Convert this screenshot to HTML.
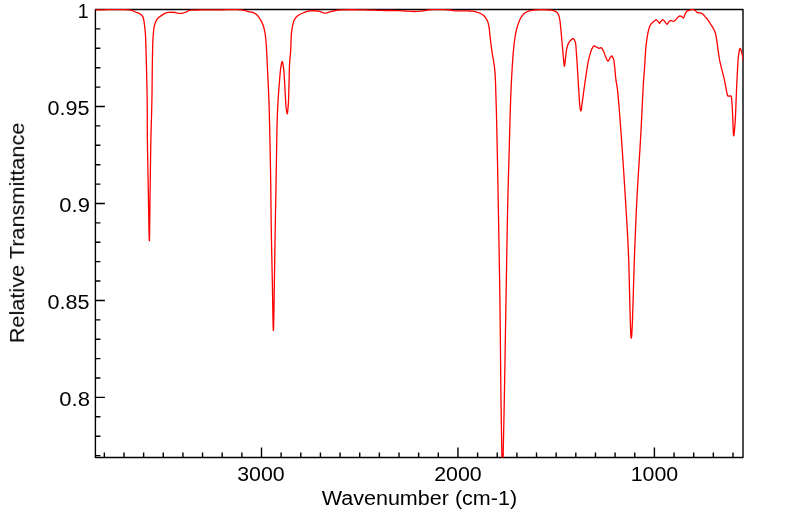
<!DOCTYPE html>
<html><head><meta charset="utf-8"><style>
html,body{margin:0;padding:0;background:#fff;}
svg{display:block;}
text{font-family:"Liberation Sans",sans-serif;fill:#000;}
</style></head><body>
<svg width="799" height="516" viewBox="0 0 799 516">
<defs><clipPath id="c"><rect x="95.4" y="8.5" width="647.60" height="449.00"/></clipPath></defs>
<rect x="0" y="0" width="799" height="516" fill="#fff"/>
<rect x="95.4" y="9.5" width="647.60" height="448.00" fill="none" stroke="#000" stroke-width="1.4" stroke-linejoin="round"/>
<path d="M732.98 457.5V452.5M713.34 457.5V452.5M693.69 457.5V452.5M674.05 457.5V452.5M654.40 457.5V447.5M634.76 457.5V452.5M615.11 457.5V452.5M595.47 457.5V452.5M575.82 457.5V452.5M556.17 457.5V452.5M536.53 457.5V452.5M516.88 457.5V452.5M497.24 457.5V452.5M477.60 457.5V452.5M457.95 457.5V447.5M438.31 457.5V452.5M418.66 457.5V452.5M399.01 457.5V452.5M379.37 457.5V452.5M359.73 457.5V452.5M340.08 457.5V452.5M320.44 457.5V452.5M300.79 457.5V452.5M281.14 457.5V452.5M261.50 457.5V447.5M241.85 457.5V452.5M222.21 457.5V452.5M202.56 457.5V452.5M182.92 457.5V452.5M163.27 457.5V452.5M143.63 457.5V452.5M123.98 457.5V452.5M104.34 457.5V452.5M95.4 455.59H100.4M95.4 436.20H100.4M95.4 416.80H100.4M95.4 397.41H104.9M95.4 378.02H100.4M95.4 358.62H100.4M95.4 339.23H100.4M95.4 319.83H100.4M95.4 300.44H104.9M95.4 281.05H100.4M95.4 261.65H100.4M95.4 242.26H100.4M95.4 222.86H100.4M95.4 203.47H104.9M95.4 184.08H100.4M95.4 164.68H100.4M95.4 145.29H100.4M95.4 125.89H100.4M95.4 106.50H104.9M95.4 87.11H100.4M95.4 67.71H100.4M95.4 48.32H100.4M95.4 28.92H100.4" stroke="#000" stroke-width="1.4" fill="none"/>
<path clip-path="url(#c)" d="M90.00 9.90 91.62 9.90 93.25 9.90 95.40 9.90 96.36 9.90 97.48 9.89 98.75 9.87 100.16 9.84 101.69 9.81 103.32 9.78 105.03 9.74 106.82 9.71 108.66 9.67 110.53 9.64 112.43 9.62 114.33 9.60 116.23 9.58 118.09 9.58 119.91 9.58 121.68 9.60 123.36 9.63 124.96 9.68 126.45 9.75 127.81 9.83 129.04 9.93 130.10 10.05 131.00 10.20 132.84 10.73 134.17 11.37 135.50 12.00 137.06 12.55 138.61 13.10 140.00 13.80 141.53 15.03 142.70 16.50 143.34 18.11 143.75 20.00 144.00 21.35 144.23 22.87 144.43 24.50 144.62 26.15 144.80 27.75 144.97 29.30 145.12 30.85 145.27 32.40 145.39 33.95 145.50 35.50 145.58 37.00 145.65 38.46 145.70 39.94 145.74 41.51 145.80 43.25 145.84 44.51 145.89 45.81 145.93 47.16 145.97 48.57 146.02 50.03 146.07 51.54 146.11 53.11 146.16 54.74 146.21 56.43 146.25 58.18 146.30 60.00 146.33 61.23 146.36 62.52 146.40 63.84 146.43 65.21 146.47 66.62 146.50 68.06 146.54 69.54 146.57 71.04 146.61 72.58 146.65 74.14 146.68 75.72 146.72 77.31 146.76 78.93 146.79 80.56 146.83 82.19 146.86 83.83 146.90 85.48 146.93 87.13 146.96 88.78 146.99 90.42 147.02 92.05 147.05 93.67 147.08 95.28 147.10 96.88 147.13 98.45 147.15 100.00 147.17 101.54 147.19 103.06 147.20 104.59 147.22 106.11 147.23 107.63 147.24 109.14 147.25 110.65 147.25 112.16 147.26 113.67 147.27 115.18 147.27 116.69 147.28 118.21 147.28 119.72 147.28 121.24 147.29 122.76 147.29 124.29 147.30 125.82 147.30 127.36 147.31 128.91 147.32 130.46 147.33 132.03 147.34 133.60 147.35 135.18 147.37 136.78 147.38 138.38 147.40 140.00 147.42 141.44 147.44 142.88 147.46 144.33 147.48 145.80 147.50 147.27 147.52 148.75 147.55 150.23 147.57 151.72 147.59 153.22 147.62 154.73 147.65 156.24 147.67 157.76 147.70 159.28 147.73 160.80 147.76 162.33 147.79 163.86 147.81 165.39 147.84 166.93 147.87 168.47 147.90 170.01 147.93 171.55 147.97 173.10 148.00 174.64 148.03 176.18 148.06 177.73 148.09 179.27 148.12 180.81 148.15 182.35 148.18 183.88 148.21 185.42 148.24 186.95 148.27 188.48 148.30 190.00 148.33 191.58 148.36 193.24 148.39 194.98 148.42 196.79 148.45 198.66 148.49 200.59 148.52 202.55 148.55 204.55 148.58 206.57 148.62 208.62 148.65 210.67 148.68 212.72 148.72 214.76 148.75 216.79 148.78 218.79 148.82 220.76 148.85 222.68 148.88 224.56 148.92 226.37 148.95 228.12 148.98 229.79 149.02 231.38 149.05 232.87 149.08 234.26 149.11 235.54 149.14 236.71 149.18 237.74 149.21 238.64 149.24 239.40 149.27 240.00 149.29 240.44 149.32 240.71 149.35 240.80 149.38 240.71 149.40 240.44 149.43 240.00 149.45 239.39 149.48 238.64 149.50 237.74 149.53 236.71 149.55 235.54 149.57 234.26 149.60 232.87 149.62 231.38 149.64 229.79 149.66 228.12 149.69 226.37 149.71 224.56 149.73 222.68 149.75 220.76 149.77 218.79 149.79 216.79 149.81 214.76 149.84 212.72 149.86 210.67 149.88 208.62 149.90 206.57 149.92 204.55 149.94 202.55 149.96 200.59 149.99 198.66 150.01 196.79 150.03 194.98 150.05 193.24 150.08 191.58 150.10 190.00 150.12 188.48 150.15 186.95 150.17 185.42 150.19 183.88 150.21 182.35 150.24 180.81 150.26 179.27 150.28 177.73 150.31 176.18 150.33 174.64 150.35 173.10 150.37 171.55 150.40 170.01 150.42 168.47 150.44 166.93 150.46 165.39 150.49 163.86 150.51 162.33 150.53 160.80 150.56 159.27 150.58 157.75 150.61 156.24 150.63 154.73 150.66 153.22 150.68 151.72 150.71 150.23 150.73 148.75 150.76 147.27 150.79 145.80 150.81 144.33 150.84 142.88 150.87 141.44 150.90 140.00 150.93 138.38 150.97 136.78 151.01 135.18 151.04 133.60 151.08 132.03 151.12 130.46 151.16 128.91 151.20 127.36 151.25 125.82 151.29 124.29 151.33 122.76 151.37 121.24 151.41 119.72 151.46 118.21 151.50 116.69 151.54 115.18 151.58 113.67 151.62 112.16 151.66 110.65 151.70 109.14 151.74 107.63 151.77 106.11 151.81 104.59 151.84 103.06 151.87 101.54 151.90 100.00 151.93 98.45 151.95 96.88 151.98 95.28 152.00 93.67 152.03 92.05 152.05 90.42 152.07 88.78 152.09 87.13 152.10 85.48 152.12 83.84 152.14 82.19 152.16 80.56 152.17 78.93 152.19 77.31 152.20 75.72 152.22 74.14 152.24 72.58 152.25 71.04 152.27 69.54 152.29 68.06 152.30 66.62 152.32 65.21 152.34 63.84 152.36 62.52 152.38 61.23 152.40 60.00 152.43 58.18 152.47 56.43 152.50 54.74 152.53 53.11 152.57 51.54 152.60 50.03 152.64 48.57 152.67 47.16 152.71 45.81 152.76 44.51 152.80 43.25 152.87 41.51 152.93 39.94 153.01 38.46 153.09 37.00 153.20 35.50 153.32 33.91 153.46 32.27 153.61 30.66 153.79 29.13 154.00 27.75 154.42 25.71 155.00 23.80 155.61 22.13 156.36 20.42 157.30 18.90 158.40 17.77 159.67 16.82 161.00 15.90 162.44 14.86 163.95 13.87 165.50 13.10 166.98 12.67 168.49 12.43 170.00 12.30 171.47 12.27 172.95 12.36 174.50 12.50 175.96 12.72 177.50 13.03 179.04 13.30 180.50 13.40 182.06 13.26 183.54 12.94 185.00 12.50 186.51 11.82 187.99 11.01 189.50 10.40 190.86 10.17 192.25 10.13 194.00 10.10 195.02 10.07 196.17 10.04 197.43 10.01 198.80 9.99 200.25 9.97 201.78 9.96 203.37 9.94 205.01 9.93 206.67 9.93 208.36 9.92 210.05 9.91 211.73 9.91 213.38 9.90 215.00 9.90 216.44 9.89 217.96 9.87 219.53 9.85 221.15 9.82 222.80 9.79 224.47 9.76 226.16 9.72 227.84 9.70 229.51 9.67 231.16 9.66 232.76 9.65 234.32 9.65 235.82 9.67 237.25 9.70 238.59 9.74 239.84 9.81 240.98 9.89 242.00 10.00 243.83 10.32 245.31 10.72 246.64 11.13 248.00 11.50 249.73 11.80 251.41 12.06 253.00 12.50 254.43 13.17 255.78 14.01 257.00 15.00 258.10 16.19 259.07 17.53 260.00 19.00 260.81 20.37 261.60 21.84 262.34 23.38 263.00 25.00 263.50 26.48 263.94 28.02 264.33 29.62 264.68 31.28 265.00 33.00 265.24 34.47 265.44 35.95 265.61 37.46 265.77 39.03 265.91 40.70 266.05 42.48 266.20 44.40 266.29 45.61 266.38 46.89 266.47 48.23 266.55 49.63 266.64 51.08 266.72 52.57 266.80 54.10 266.88 55.67 266.96 57.26 267.03 58.87 267.11 60.50 267.18 62.14 267.26 63.78 267.33 65.42 267.41 67.06 267.48 68.68 267.55 70.28 267.63 71.85 267.70 73.40 267.77 74.94 267.85 76.48 267.92 78.03 268.00 79.59 268.07 81.15 268.15 82.71 268.22 84.28 268.30 85.84 268.37 87.40 268.44 88.96 268.51 90.51 268.58 92.05 268.64 93.58 268.71 95.11 268.77 96.62 268.83 98.11 268.89 99.59 268.95 101.06 269.00 102.50 269.05 104.07 269.10 105.58 269.15 107.04 269.19 108.48 269.24 109.88 269.27 111.28 269.31 112.68 269.35 114.08 269.38 115.50 269.41 116.95 269.45 118.44 269.48 119.98 269.52 121.58 269.56 123.25 269.60 125.00 269.63 126.23 269.66 127.50 269.69 128.80 269.72 130.12 269.75 131.48 269.78 132.86 269.81 134.27 269.84 135.70 269.87 137.15 269.90 138.62 269.94 140.12 269.97 141.63 270.00 143.16 270.03 144.70 270.06 146.26 270.10 147.83 270.13 149.41 270.16 151.00 270.19 152.60 270.22 154.20 270.25 155.81 270.29 157.43 270.32 159.04 270.35 160.66 270.38 162.27 270.41 163.89 270.44 165.50 270.46 167.10 270.49 168.70 270.52 170.29 270.55 171.87 270.57 173.44 270.60 175.00 270.62 176.49 270.65 177.99 270.67 179.50 270.69 181.01 270.71 182.53 270.73 184.05 270.75 185.57 270.77 187.10 270.79 188.63 270.81 190.16 270.83 191.70 270.85 193.24 270.86 194.78 270.88 196.32 270.90 197.86 270.92 199.41 270.93 200.95 270.95 202.50 270.97 204.05 270.98 205.59 271.00 207.14 271.02 208.68 271.04 210.22 271.05 211.76 271.07 213.30 271.09 214.84 271.11 216.37 271.13 217.90 271.15 219.43 271.17 220.95 271.19 222.47 271.21 223.99 271.23 225.50 271.25 227.01 271.28 228.51 271.30 230.00 271.33 231.55 271.35 233.09 271.38 234.63 271.41 236.17 271.43 237.70 271.46 239.23 271.49 240.76 271.52 242.28 271.55 243.80 271.58 245.32 271.61 246.83 271.64 248.35 271.67 249.86 271.70 251.37 271.73 252.87 271.76 254.38 271.79 255.89 271.82 257.39 271.85 258.89 271.88 260.40 271.92 261.90 271.95 263.40 271.98 264.91 272.01 266.41 272.04 267.91 272.08 269.42 272.11 270.93 272.14 272.43 272.17 273.94 272.20 275.45 272.24 276.97 272.27 278.48 272.30 280.00 272.33 281.57 272.36 283.23 272.40 284.96 272.43 286.76 272.46 288.62 272.50 290.53 272.53 292.49 272.56 294.47 272.60 296.49 272.63 298.52 272.66 300.56 272.70 302.59 272.73 304.63 272.77 306.64 272.80 308.63 272.83 310.58 272.87 312.50 272.90 314.36 272.94 316.17 272.97 317.90 273.00 319.56 273.04 321.14 273.07 322.62 273.10 324.01 273.14 325.28 273.17 326.43 273.20 327.46 273.24 328.35 273.27 329.10 273.30 329.70 273.34 330.14 273.37 330.41 273.40 330.50 273.43 330.41 273.46 330.14 273.50 329.70 273.53 329.10 273.56 328.35 273.59 327.46 273.62 326.43 273.65 325.28 273.69 324.01 273.72 322.62 273.75 321.14 273.78 319.56 273.81 317.90 273.84 316.16 273.87 314.36 273.90 312.50 273.93 310.58 273.96 308.63 273.99 306.64 274.02 304.63 274.06 302.59 274.08 300.56 274.11 298.52 274.14 296.49 274.17 294.47 274.20 292.49 274.23 290.53 274.26 288.62 274.29 286.76 274.32 284.96 274.34 283.23 274.37 281.57 274.40 280.00 274.43 278.48 274.45 276.97 274.48 275.45 274.51 273.94 274.53 272.43 274.56 270.93 274.58 269.42 274.60 267.91 274.63 266.41 274.65 264.91 274.68 263.40 274.70 261.90 274.72 260.40 274.75 258.89 274.77 257.39 274.79 255.89 274.81 254.38 274.84 252.87 274.86 251.37 274.88 249.86 274.91 248.35 274.93 246.83 274.95 245.32 274.98 243.80 275.00 242.28 275.02 240.76 275.05 239.23 275.07 237.70 275.10 236.17 275.12 234.63 275.15 233.09 275.17 231.55 275.20 230.00 275.23 228.51 275.25 227.01 275.28 225.51 275.30 224.00 275.33 222.50 275.36 220.98 275.38 219.47 275.41 217.95 275.44 216.43 275.47 214.91 275.49 213.39 275.52 211.86 275.55 210.33 275.58 208.80 275.60 207.27 275.63 205.74 275.66 204.20 275.69 202.66 275.72 201.13 275.75 199.59 275.77 198.05 275.80 196.51 275.83 194.97 275.86 193.43 275.89 191.89 275.92 190.35 275.95 188.81 275.97 187.27 276.00 185.73 276.03 184.20 276.06 182.66 276.09 181.13 276.12 179.59 276.14 178.06 276.17 176.53 276.20 175.00 276.23 173.46 276.25 171.90 276.28 170.33 276.31 168.74 276.33 167.13 276.36 165.51 276.38 163.89 276.41 162.25 276.44 160.61 276.46 158.96 276.49 157.30 276.51 155.65 276.54 153.99 276.56 152.34 276.59 150.69 276.61 149.05 276.64 147.41 276.66 145.78 276.69 144.16 276.71 142.56 276.74 140.97 276.77 139.39 276.79 137.83 276.82 136.30 276.85 134.78 276.88 133.28 276.91 131.82 276.94 130.37 276.97 128.96 277.00 127.57 277.03 126.22 277.06 124.90 277.09 123.62 277.13 122.37 277.16 121.17 277.20 120.00 277.26 118.15 277.32 116.40 277.38 114.75 277.44 113.16 277.51 111.64 277.57 110.17 277.64 108.74 277.70 107.33 277.78 105.94 277.85 104.54 277.93 103.12 278.01 101.68 278.10 100.20 278.20 98.59 278.30 96.97 278.41 95.35 278.52 93.72 278.64 92.09 278.76 90.48 278.88 88.87 279.00 87.28 279.13 85.72 279.25 84.18 279.38 82.67 279.50 81.20 279.63 79.56 279.76 77.92 279.89 76.29 280.02 74.70 280.15 73.14 280.29 71.64 280.45 70.21 280.61 68.86 280.80 67.60 281.12 65.61 281.48 63.63 281.85 62.11 282.20 61.50 282.54 62.08 282.88 63.56 283.20 65.53 283.50 67.60 283.65 68.77 283.78 70.08 283.91 71.49 284.02 72.99 284.13 74.57 284.23 76.21 284.33 77.90 284.42 79.61 284.52 81.33 284.61 83.05 284.70 84.74 284.80 86.40 284.90 88.00 285.00 89.60 285.10 91.25 285.19 92.95 285.28 94.67 285.37 96.40 285.46 98.11 285.55 99.79 285.65 101.43 285.74 103.00 285.85 104.50 285.96 105.89 286.07 107.16 286.20 108.30 286.52 110.80 286.87 112.92 287.20 113.80 287.40 113.35 287.60 112.17 287.80 110.46 287.98 108.43 288.15 106.31 288.30 104.30 288.39 102.99 288.47 101.60 288.54 100.14 288.60 98.62 288.65 97.05 288.70 95.45 288.75 93.81 288.79 92.16 288.83 90.50 288.87 88.84 288.91 87.20 288.95 85.58 289.00 84.00 289.05 82.42 289.09 80.82 289.13 79.21 289.17 77.59 289.20 75.97 289.24 74.35 289.27 72.74 289.31 71.15 289.36 69.57 289.41 68.03 289.46 66.51 289.53 65.03 289.60 63.60 289.70 61.98 289.81 60.42 289.94 58.92 290.07 57.45 290.21 56.00 290.34 54.54 290.47 53.07 290.59 51.56 290.70 50.00 290.78 48.51 290.85 46.95 290.91 45.35 290.96 43.73 291.01 42.10 291.06 40.47 291.12 38.86 291.19 37.30 291.27 35.79 291.37 34.35 291.50 33.00 291.70 31.29 291.92 29.67 292.16 28.12 292.42 26.65 292.70 25.28 293.00 24.00 293.41 22.35 293.86 20.89 294.50 19.50 295.47 18.05 296.66 16.69 298.00 15.50 299.54 14.52 301.23 13.73 303.00 13.00 304.41 12.41 305.85 11.84 307.36 11.35 309.00 11.00 310.54 10.83 312.23 10.75 314.00 10.75 315.77 10.83 317.46 10.98 319.00 11.20 320.63 11.67 322.14 12.33 323.58 12.92 325.00 13.20 326.65 12.96 328.26 12.37 330.00 11.80 331.48 11.45 333.08 11.09 334.74 10.74 336.40 10.44 338.00 10.20 339.72 10.02 341.36 9.91 343.07 9.85 345.00 9.80 346.25 9.77 347.58 9.75 348.96 9.73 350.41 9.73 351.91 9.73 353.45 9.73 355.04 9.74 356.67 9.76 358.32 9.78 360.00 9.80 361.41 9.82 362.90 9.86 364.46 9.89 366.07 9.94 367.72 9.99 369.40 10.04 371.10 10.10 372.81 10.15 374.50 10.21 376.17 10.27 377.81 10.32 379.39 10.37 380.92 10.41 382.37 10.45 383.73 10.48 385.00 10.50 386.93 10.51 388.67 10.51 390.28 10.49 391.83 10.48 393.39 10.48 395.00 10.50 396.67 10.55 398.33 10.63 400.00 10.72 401.67 10.81 403.33 10.91 405.00 11.00 406.69 11.10 408.40 11.21 410.11 11.32 411.80 11.42 413.44 11.49 415.00 11.50 416.83 11.45 418.55 11.34 420.25 11.19 422.00 11.00 423.51 10.79 424.99 10.52 426.51 10.24 428.16 9.98 430.00 9.80 431.28 9.73 432.71 9.67 434.27 9.63 435.92 9.61 437.64 9.61 439.39 9.62 441.14 9.64 442.87 9.67 444.54 9.72 446.11 9.78 447.57 9.84 448.88 9.92 450.00 10.00 451.81 10.25 453.24 10.55 455.00 10.80 456.20 10.88 457.59 10.93 459.14 10.95 460.80 10.95 462.54 10.95 464.29 10.95 466.04 10.95 467.72 10.97 469.31 11.01 470.75 11.09 472.00 11.20 473.74 11.44 475.25 11.72 476.63 12.06 478.00 12.50 479.76 13.16 481.45 13.97 483.00 15.00 484.15 16.05 485.22 17.26 486.18 18.59 487.00 20.00 487.69 21.61 488.21 23.33 488.63 25.14 489.00 27.00 489.24 28.40 489.42 29.83 489.56 31.30 489.69 32.81 489.83 34.37 490.00 36.00 490.17 37.41 490.34 38.86 490.52 40.36 490.70 41.89 490.89 43.46 491.09 45.05 491.30 46.68 491.52 48.33 491.75 50.00 491.95 51.38 492.17 52.77 492.40 54.18 492.64 55.61 492.89 57.05 493.14 58.51 493.40 60.00 493.65 61.50 493.89 63.03 494.12 64.59 494.33 66.16 494.53 67.77 494.70 69.40 494.83 70.78 494.94 72.16 495.05 73.56 495.14 74.97 495.23 76.40 495.31 77.84 495.38 79.29 495.44 80.77 495.50 82.26 495.55 83.77 495.60 85.30 495.65 86.85 495.70 88.43 495.74 90.02 495.79 91.65 495.84 93.29 495.89 94.97 495.94 96.67 496.00 98.40 496.04 99.71 496.09 101.05 496.13 102.40 496.17 103.78 496.22 105.18 496.26 106.59 496.30 108.03 496.34 109.48 496.38 110.95 496.42 112.43 496.45 113.93 496.49 115.43 496.53 116.96 496.57 118.49 496.60 120.03 496.64 121.58 496.67 123.14 496.71 124.71 496.74 126.29 496.78 127.87 496.81 129.45 496.85 131.04 496.88 132.63 496.92 134.22 496.95 135.81 496.98 137.40 497.02 138.99 497.05 140.58 497.08 142.16 497.12 143.74 497.15 145.32 497.18 146.89 497.22 148.45 497.25 150.00 497.28 151.48 497.31 152.95 497.34 154.42 497.37 155.88 497.40 157.34 497.43 158.79 497.46 160.24 497.49 161.69 497.52 163.14 497.55 164.59 497.58 166.03 497.60 167.48 497.63 168.93 497.66 170.38 497.69 171.83 497.71 173.29 497.74 174.75 497.77 176.22 497.79 177.69 497.82 179.17 497.85 180.66 497.88 182.15 497.90 183.65 497.93 185.17 497.96 186.69 497.98 188.22 498.01 189.77 498.04 191.32 498.07 192.89 498.10 194.48 498.12 196.07 498.15 197.69 498.18 199.31 498.21 200.96 498.24 202.62 498.27 204.30 498.30 206.00 498.32 207.33 498.35 208.67 498.37 210.01 498.40 211.38 498.42 212.75 498.45 214.13 498.47 215.52 498.50 216.92 498.52 218.33 498.55 219.76 498.57 221.19 498.60 222.63 498.63 224.07 498.65 225.53 498.68 226.99 498.71 228.47 498.73 229.95 498.76 231.43 498.79 232.93 498.81 234.43 498.84 235.94 498.87 237.45 498.90 238.97 498.92 240.49 498.95 242.02 498.98 243.56 499.01 245.10 499.03 246.64 499.06 248.19 499.09 249.75 499.12 251.30 499.14 252.87 499.17 254.43 499.20 256.00 499.23 257.57 499.25 259.14 499.28 260.71 499.31 262.29 499.33 263.87 499.36 265.45 499.39 267.03 499.41 268.61 499.44 270.19 499.47 271.77 499.49 273.35 499.52 274.94 499.54 276.52 499.57 278.10 499.59 279.68 499.62 281.26 499.64 282.83 499.67 284.41 499.69 285.98 499.72 287.55 499.74 289.12 499.76 290.69 499.79 292.25 499.81 293.81 499.83 295.36 499.86 296.91 499.88 298.46 499.90 300.00 499.92 301.50 499.94 303.00 499.96 304.51 499.98 306.03 500.00 307.55 500.02 309.08 500.04 310.61 500.06 312.15 500.08 313.70 500.10 315.25 500.11 316.81 500.13 318.37 500.15 319.93 500.17 321.50 500.19 323.07 500.20 324.64 500.22 326.21 500.24 327.79 500.25 329.37 500.27 330.95 500.29 332.54 500.30 334.12 500.32 335.71 500.34 337.29 500.35 338.88 500.37 340.46 500.39 342.05 500.40 343.63 500.42 345.21 500.43 346.79 500.45 348.37 500.46 349.95 500.48 351.52 500.49 353.10 500.51 354.67 500.52 356.23 500.54 357.79 500.56 359.35 500.57 360.90 500.59 362.45 500.60 363.99 500.62 365.53 500.63 367.06 500.65 368.59 500.66 370.11 500.68 371.62 500.69 373.13 500.71 374.63 500.72 376.12 500.74 377.60 500.75 379.08 500.77 380.54 500.79 382.00 500.80 383.45 500.82 384.89 500.83 386.32 500.85 387.74 500.87 389.15 500.88 390.54 500.90 391.93 500.91 393.31 500.93 394.67 500.95 396.02 500.97 397.36 500.98 398.69 501.00 400.00 501.02 401.72 501.05 403.42 501.07 405.12 501.09 406.80 501.12 408.47 501.14 410.14 501.17 411.79 501.19 413.43 501.21 415.06 501.24 416.68 501.26 418.29 501.29 419.88 501.31 421.47 501.34 423.04 501.36 424.61 501.39 426.16 501.41 427.70 501.44 429.24 501.46 430.76 501.49 432.27 501.51 433.76 501.54 435.25 501.56 436.73 501.59 438.19 501.61 439.64 501.63 441.09 501.66 442.52 501.68 443.94 501.70 445.34 501.73 446.74 501.75 448.13 501.77 449.50 501.79 450.86 501.82 452.21 501.84 453.55 501.86 454.88 501.88 456.20 501.90 457.50 501.93 459.32 501.95 461.22 501.98 463.19 502.00 465.22 502.03 467.28 502.05 469.35 502.07 471.42 502.09 473.47 502.11 475.48 502.14 477.44 502.16 479.32 502.18 481.10 502.20 482.78 502.22 484.32 502.25 485.72 502.27 486.95 502.29 488.00 502.32 488.85 502.35 489.48 502.37 489.87 502.40 490.00 502.43 489.87 502.46 489.48 502.49 488.85 502.52 488.00 502.55 486.95 502.58 485.72 502.61 484.32 502.64 482.78 502.68 481.10 502.71 479.32 502.74 477.44 502.78 475.48 502.81 473.47 502.85 471.42 502.88 469.35 502.92 467.28 502.95 465.22 502.99 463.19 503.03 461.22 503.06 459.32 503.10 457.50 503.13 456.20 503.16 454.88 503.18 453.55 503.21 452.21 503.24 450.86 503.27 449.50 503.30 448.13 503.33 446.74 503.36 445.34 503.39 443.94 503.42 442.52 503.45 441.09 503.48 439.64 503.52 438.19 503.55 436.73 503.58 435.25 503.61 433.76 503.64 432.27 503.68 430.76 503.71 429.24 503.74 427.70 503.77 426.16 503.81 424.61 503.84 423.04 503.87 421.47 503.90 419.88 503.94 418.29 503.97 416.68 504.00 415.06 504.04 413.43 504.07 411.79 504.10 410.14 504.14 408.47 504.17 406.80 504.20 405.12 504.23 403.42 504.27 401.72 504.30 400.00 504.32 398.69 504.35 397.36 504.37 396.02 504.40 394.67 504.42 393.31 504.45 391.93 504.47 390.54 504.50 389.15 504.52 387.74 504.55 386.32 504.57 384.89 504.60 383.45 504.63 382.00 504.65 380.54 504.68 379.08 504.70 377.60 504.73 376.12 504.75 374.63 504.78 373.13 504.80 371.62 504.83 370.11 504.85 368.59 504.88 367.06 504.91 365.53 504.93 363.99 504.96 362.45 504.98 360.90 505.01 359.35 505.03 357.79 505.06 356.23 505.09 354.67 505.11 353.10 505.14 351.53 505.16 349.95 505.19 348.37 505.22 346.79 505.24 345.21 505.27 343.63 505.29 342.05 505.32 340.46 505.35 338.88 505.37 337.29 505.40 335.71 505.42 334.12 505.45 332.54 505.48 330.96 505.50 329.37 505.53 327.79 505.55 326.22 505.58 324.64 505.61 323.07 505.63 321.50 505.66 319.93 505.69 318.37 505.71 316.81 505.74 315.25 505.76 313.70 505.79 312.15 505.82 310.61 505.84 309.08 505.87 307.55 505.90 306.03 505.92 304.51 505.95 303.00 505.97 301.50 506.00 300.00 506.03 298.46 506.05 296.91 506.08 295.36 506.11 293.81 506.13 292.25 506.16 290.69 506.19 289.12 506.21 287.55 506.24 285.98 506.27 284.41 506.29 282.83 506.32 281.26 506.35 279.68 506.38 278.10 506.40 276.52 506.43 274.94 506.45 273.36 506.48 271.77 506.51 270.19 506.53 268.61 506.56 267.03 506.59 265.45 506.62 263.87 506.64 262.29 506.67 260.71 506.70 259.14 506.72 257.57 506.75 256.00 506.78 254.43 506.80 252.87 506.83 251.30 506.86 249.75 506.88 248.19 506.91 246.64 506.94 245.10 506.97 243.56 506.99 242.02 507.02 240.49 507.05 238.97 507.07 237.45 507.10 235.94 507.13 234.43 507.16 232.93 507.18 231.43 507.21 229.95 507.24 228.47 507.27 226.99 507.30 225.53 507.32 224.07 507.35 222.63 507.38 221.19 507.41 219.76 507.44 218.33 507.47 216.92 507.50 215.52 507.52 214.13 507.55 212.75 507.58 211.38 507.61 210.01 507.64 208.67 507.67 207.33 507.70 206.00 507.74 204.30 507.78 202.62 507.82 200.96 507.85 199.31 507.89 197.69 507.93 196.07 507.97 194.47 508.01 192.89 508.05 191.32 508.09 189.77 508.13 188.22 508.17 186.69 508.21 185.17 508.25 183.65 508.29 182.15 508.33 180.66 508.37 179.17 508.42 177.69 508.46 176.22 508.50 174.75 508.54 173.29 508.58 171.83 508.62 170.38 508.66 168.93 508.70 167.48 508.74 166.03 508.79 164.59 508.83 163.14 508.87 161.69 508.91 160.24 508.95 158.79 508.99 157.34 509.03 155.88 509.08 154.42 509.12 152.95 509.16 151.48 509.20 150.00 509.24 148.45 509.29 146.89 509.33 145.32 509.37 143.74 509.41 142.16 509.46 140.58 509.50 138.99 509.54 137.40 509.58 135.81 509.62 134.22 509.67 132.63 509.71 131.04 509.75 129.45 509.79 127.87 509.83 126.29 509.88 124.71 509.92 123.14 509.96 121.58 510.01 120.03 510.05 118.49 510.09 116.96 510.14 115.43 510.18 113.93 510.23 112.43 510.27 110.95 510.32 109.48 510.36 108.03 510.41 106.59 510.46 105.18 510.50 103.78 510.55 102.40 510.60 101.05 510.65 99.71 510.70 98.40 510.77 96.67 510.84 94.97 510.90 93.29 510.97 91.65 511.04 90.03 511.11 88.43 511.18 86.86 511.26 85.30 511.33 83.77 511.40 82.26 511.47 80.77 511.55 79.30 511.62 77.84 511.70 76.40 511.78 74.98 511.86 73.57 511.94 72.17 512.02 70.78 512.10 69.40 512.21 67.64 512.31 65.92 512.41 64.22 512.52 62.56 512.62 60.93 512.73 59.32 512.84 57.73 512.96 56.16 513.08 54.61 513.21 53.06 513.35 51.53 513.50 50.00 513.67 48.35 513.84 46.70 514.01 45.06 514.20 43.44 514.39 41.83 514.59 40.26 514.80 38.72 515.02 37.23 515.25 35.78 515.50 34.40 515.83 32.69 516.17 31.08 516.52 29.54 516.91 28.04 517.33 26.57 517.80 25.10 518.39 23.38 519.01 21.66 519.70 20.00 520.45 18.42 521.30 17.00 522.30 15.61 523.38 14.35 524.58 13.24 525.90 12.30 527.42 11.53 529.07 10.97 530.88 10.55 532.90 10.20 534.28 10.03 535.84 9.89 537.54 9.80 539.32 9.75 541.13 9.72 542.94 9.73 544.70 9.76 546.36 9.82 547.88 9.90 549.20 10.00 551.45 10.22 553.36 10.54 555.00 11.10 556.63 12.10 557.90 13.50 558.52 14.70 558.98 16.11 559.36 17.67 559.70 19.30 559.96 20.68 560.16 22.12 560.33 23.61 560.48 25.19 560.63 26.85 560.80 28.60 560.94 30.02 561.09 31.54 561.24 33.14 561.38 34.79 561.53 36.50 561.68 38.22 561.83 39.95 561.98 41.66 562.12 43.33 562.26 44.95 562.40 46.50 562.56 48.28 562.71 50.05 562.86 51.80 563.01 53.52 563.16 55.18 563.31 56.77 563.45 58.29 563.60 59.70 563.80 61.79 563.99 63.91 564.18 65.54 564.40 66.20 564.60 65.69 564.81 64.36 565.03 62.47 565.25 60.33 565.48 58.21 565.70 56.40 565.92 54.67 566.11 52.95 566.32 51.26 566.57 49.64 566.90 48.10 567.30 46.55 567.75 45.06 568.30 43.67 569.00 42.40 570.28 40.70 571.79 39.19 573.10 38.60 574.23 39.57 575.10 41.50 575.45 42.70 575.70 44.13 575.88 45.74 576.02 47.48 576.14 49.32 576.25 51.21 576.40 53.10 576.51 54.44 576.63 55.84 576.73 57.29 576.84 58.78 576.94 60.29 577.04 61.84 577.13 63.40 577.23 64.98 577.32 66.56 577.42 68.14 577.51 69.71 577.60 71.27 577.70 72.80 577.80 74.33 577.89 75.87 577.98 77.42 578.07 78.98 578.17 80.54 578.26 82.10 578.35 83.65 578.44 85.19 578.53 86.72 578.62 88.23 578.71 89.71 578.81 91.17 578.90 92.60 579.01 94.39 579.12 96.23 579.23 98.07 579.33 99.88 579.44 101.64 579.56 103.30 579.69 104.83 579.84 106.21 580.00 107.40 580.44 109.81 580.90 111.00 581.16 110.43 581.41 108.97 581.66 106.94 581.92 104.67 582.20 102.50 582.38 101.22 582.58 99.85 582.78 98.39 582.99 96.87 583.20 95.31 583.42 93.72 583.64 92.11 583.86 90.50 584.07 88.91 584.29 87.35 584.50 85.84 584.70 84.40 584.93 82.78 585.15 81.19 585.38 79.62 585.60 78.08 585.82 76.56 586.04 75.06 586.25 73.58 586.48 72.13 586.70 70.70 586.95 69.10 587.20 67.52 587.45 65.96 587.70 64.44 587.96 62.96 588.22 61.55 588.50 60.20 588.90 58.47 589.32 56.85 589.75 55.31 590.20 53.80 590.74 51.95 591.31 50.18 592.00 48.60 593.08 46.76 594.30 45.70 596.60 47.20 599.00 48.40 601.30 47.70 602.53 49.20 603.60 51.50 604.20 52.88 604.77 54.39 605.32 55.91 605.90 57.30 606.94 59.79 608.00 61.20 609.00 59.92 610.00 57.90 611.70 55.80 612.66 56.95 613.50 59.10 613.86 60.45 614.12 61.99 614.32 63.67 614.50 65.42 614.70 67.20 614.87 68.75 615.02 70.37 615.16 72.04 615.30 73.73 615.45 75.44 615.61 77.14 615.80 78.80 616.01 80.34 616.24 81.79 616.48 83.20 616.73 84.66 616.99 86.23 617.25 87.99 617.50 90.00 617.61 91.01 617.73 92.07 617.85 93.19 617.96 94.36 618.08 95.58 618.20 96.85 618.32 98.17 618.45 99.52 618.57 100.92 618.69 102.36 618.82 103.82 618.94 105.32 619.06 106.85 619.19 108.41 619.31 109.99 619.44 111.59 619.56 113.21 619.69 114.85 619.82 116.50 619.94 118.16 620.07 119.83 620.19 121.51 620.31 123.18 620.44 124.86 620.56 126.54 620.68 128.21 620.81 129.88 620.93 131.53 621.05 133.17 621.17 134.80 621.28 136.41 621.40 138.00 621.51 139.44 621.61 140.89 621.72 142.35 621.82 143.81 621.93 145.29 622.03 146.77 622.14 148.26 622.24 149.76 622.35 151.26 622.45 152.77 622.55 154.29 622.66 155.81 622.76 157.33 622.86 158.86 622.97 160.39 623.07 161.93 623.17 163.46 623.27 165.00 623.37 166.54 623.48 168.09 623.58 169.63 623.68 171.17 623.78 172.72 623.88 174.26 623.97 175.80 624.07 177.34 624.17 178.88 624.27 180.41 624.36 181.95 624.46 183.47 624.56 185.00 624.65 186.52 624.75 188.04 624.84 189.55 624.93 191.05 625.03 192.55 625.12 194.04 625.21 195.52 625.30 197.00 625.40 198.55 625.49 200.08 625.58 201.60 625.68 203.11 625.77 204.60 625.86 206.09 625.95 207.57 626.04 209.04 626.13 210.50 626.22 211.96 626.31 213.41 626.40 214.86 626.49 216.31 626.58 217.76 626.66 219.21 626.75 220.66 626.84 222.11 626.92 223.57 627.01 225.03 627.09 226.50 627.17 227.97 627.26 229.45 627.34 230.95 627.42 232.45 627.51 233.96 627.59 235.49 627.67 237.03 627.75 238.59 627.83 240.16 627.91 241.75 627.99 243.36 628.07 244.99 628.14 246.64 628.22 248.31 628.30 250.00 628.36 251.36 628.42 252.78 628.48 254.26 628.54 255.79 628.59 257.38 628.65 259.02 628.70 260.71 628.76 262.44 628.82 264.21 628.87 266.02 628.92 267.87 628.98 269.75 629.03 271.65 629.08 273.59 629.14 275.54 629.19 277.52 629.24 279.51 629.29 281.51 629.34 283.53 629.39 285.55 629.44 287.58 629.49 289.61 629.54 291.64 629.59 293.67 629.64 295.68 629.69 297.69 629.74 299.68 629.79 301.65 629.84 303.61 629.88 305.54 629.93 307.45 629.98 309.33 630.03 311.17 630.08 312.98 630.13 314.76 630.18 316.49 630.23 318.17 630.27 319.81 630.32 321.40 630.37 322.94 630.42 324.42 630.47 325.84 630.52 327.20 630.57 328.49 630.62 329.71 630.67 330.87 630.72 331.94 630.77 332.94 630.82 333.86 630.87 334.70 630.93 335.45 630.98 336.11 631.03 336.67 631.08 337.14 631.14 337.51 631.19 337.78 631.25 337.94 631.30 338.00 631.36 337.95 631.41 337.78 631.47 337.51 631.52 337.14 631.58 336.67 631.64 336.11 631.69 335.45 631.75 334.70 631.81 333.87 631.87 332.95 631.93 331.95 631.99 330.87 632.04 329.72 632.10 328.49 632.16 327.20 632.22 325.84 632.28 324.42 632.34 322.94 632.40 321.41 632.46 319.82 632.52 318.18 632.58 316.49 632.64 314.76 632.70 312.99 632.76 311.18 632.82 309.33 632.88 307.45 632.95 305.55 633.01 303.61 633.07 301.66 633.13 299.68 633.19 297.69 633.25 295.69 633.31 293.67 633.37 291.65 633.43 289.62 633.49 287.59 633.55 285.56 633.61 283.53 633.67 281.52 633.73 279.51 633.79 277.52 633.85 275.54 633.90 273.59 633.96 271.66 634.02 269.75 634.08 267.87 634.14 266.03 634.20 264.22 634.25 262.44 634.31 260.71 634.37 259.02 634.42 257.38 634.48 255.80 634.54 254.26 634.59 252.78 634.65 251.36 634.70 250.00 634.77 248.31 634.84 246.64 634.90 244.99 634.97 243.36 635.03 241.75 635.10 240.16 635.16 238.59 635.22 237.03 635.29 235.49 635.35 233.96 635.41 232.45 635.47 230.95 635.53 229.46 635.59 227.97 635.65 226.50 635.71 225.03 635.77 223.57 635.83 222.11 635.89 220.66 635.95 219.21 636.02 217.76 636.08 216.31 636.14 214.86 636.21 213.41 636.27 211.96 636.34 210.50 636.41 209.04 636.48 207.57 636.55 206.09 636.62 204.60 636.69 203.11 636.77 201.60 636.84 200.08 636.92 198.55 637.00 197.00 637.08 195.52 637.16 194.04 637.24 192.56 637.32 191.07 637.41 189.58 637.49 188.08 637.58 186.58 637.67 185.08 637.76 183.57 637.85 182.06 637.95 180.54 638.04 179.03 638.13 177.51 638.23 175.99 638.33 174.47 638.42 172.94 638.52 171.42 638.62 169.89 638.72 168.36 638.81 166.84 638.91 165.31 639.01 163.78 639.11 162.25 639.21 160.72 639.30 159.20 639.40 157.67 639.50 156.14 639.60 154.62 639.69 153.10 639.79 151.58 639.88 150.06 639.98 148.54 640.07 147.02 640.16 145.51 640.25 144.00 640.34 142.50 640.43 140.99 640.51 139.50 640.60 138.00 640.69 136.46 640.77 134.89 640.86 133.30 640.94 131.70 641.03 130.08 641.12 128.44 641.20 126.80 641.29 125.14 641.37 123.48 641.45 121.81 641.54 120.14 641.62 118.46 641.70 116.79 641.79 115.12 641.87 113.45 641.95 111.79 642.03 110.14 642.11 108.50 642.19 106.87 642.27 105.26 642.35 103.66 642.43 102.08 642.50 100.52 642.58 98.98 642.66 97.47 642.73 95.99 642.81 94.53 642.88 93.11 642.95 91.72 643.02 90.36 643.09 89.04 643.16 87.76 643.23 86.51 643.30 85.32 643.37 84.16 643.43 83.06 643.50 82.00 643.62 80.12 643.74 78.41 643.85 76.85 643.96 75.39 644.07 74.00 644.17 72.66 644.28 71.32 644.39 69.95 644.49 68.52 644.60 67.00 644.70 65.51 644.79 63.98 644.88 62.42 644.97 60.84 645.05 59.25 645.14 57.64 645.23 56.05 645.33 54.46 645.43 52.89 645.54 51.36 645.67 49.86 645.80 48.40 645.97 46.76 646.14 45.11 646.33 43.48 646.53 41.88 646.73 40.31 646.94 38.80 647.16 37.35 647.38 35.98 647.60 34.70 647.95 32.88 648.31 31.23 648.69 29.72 649.10 28.30 649.77 26.23 650.60 24.50 652.50 22.60 654.40 21.10 656.30 19.60 657.80 21.10 659.60 23.40 661.10 21.10 662.90 19.60 664.50 21.10 665.81 23.09 667.10 24.40 668.07 23.20 669.00 21.50 670.50 20.40 671.94 20.97 673.50 21.50 675.03 20.47 676.50 18.90 678.02 17.15 679.50 15.90 681.40 16.30 683.30 18.10 684.08 16.81 684.80 14.80 685.63 12.97 686.70 11.40 688.25 10.59 690.00 10.10 691.76 9.62 693.40 9.50 695.30 10.60 697.20 12.50 698.87 12.75 700.60 12.90 702.80 14.00 703.93 15.23 705.00 16.60 707.00 18.70 707.83 19.83 708.72 21.17 709.62 22.59 710.50 24.00 711.42 25.44 712.36 26.91 713.24 28.37 714.00 29.80 714.68 31.32 715.22 32.80 715.70 34.40 716.07 36.03 716.37 37.77 716.63 39.58 716.90 41.40 717.13 42.96 717.34 44.55 717.55 46.16 717.76 47.80 718.00 49.50 718.20 50.93 718.41 52.41 718.62 53.93 718.84 55.46 719.08 56.99 719.33 58.51 719.60 60.00 719.94 61.67 720.31 63.33 720.69 64.97 721.09 66.62 721.50 68.26 721.90 69.90 722.31 71.54 722.73 73.16 723.16 74.78 723.58 76.42 724.00 78.08 724.40 79.80 724.72 81.32 725.04 82.93 725.35 84.60 725.65 86.28 725.95 87.91 726.24 89.46 726.52 90.87 726.80 92.10 727.25 94.60 728.00 96.20 730.90 95.90 731.47 97.09 731.65 99.01 731.80 101.20 731.94 102.54 732.05 104.01 732.15 105.57 732.24 107.23 732.33 108.95 732.41 110.74 732.50 112.56 732.60 114.40 732.67 115.87 732.75 117.56 732.82 119.42 732.89 121.38 732.95 123.41 733.03 125.45 733.10 127.45 733.17 129.35 733.25 131.10 733.33 132.65 733.41 133.95 733.50 134.94 733.60 135.57 733.70 135.80 733.86 135.45 734.03 134.48 734.21 133.02 734.40 131.19 734.59 129.10 734.77 126.89 734.94 124.68 735.10 122.60 735.19 121.32 735.28 119.96 735.36 118.55 735.44 117.08 735.51 115.56 735.58 114.00 735.65 112.41 735.72 110.78 735.78 109.14 735.84 107.48 735.91 105.81 735.97 104.14 736.03 102.48 736.09 100.83 736.15 99.20 736.21 97.59 736.27 96.02 736.33 94.49 736.40 93.00 736.47 91.36 736.55 89.73 736.62 88.09 736.69 86.46 736.77 84.84 736.84 83.23 736.91 81.64 736.98 80.07 737.05 78.52 737.13 77.00 737.20 75.51 737.27 74.05 737.35 72.62 737.42 71.24 737.50 69.90 737.60 68.09 737.69 66.35 737.78 64.67 737.87 63.05 737.97 61.48 738.08 59.95 738.23 58.46 738.40 57.00 738.67 54.89 738.98 52.62 739.32 50.54 739.70 49.01 740.10 48.40 740.69 49.17 741.32 50.99 741.90 53.00 742.22 54.30 742.49 55.71 742.73 57.20 742.97 58.76 743.22 60.37 743.50 62.00 743.78 63.51 744.08 65.08 744.39 66.70 744.71 68.35 745.03 70.02 745.36 71.69 745.68 73.36 746.00 75.00" fill="none" stroke="#f00" stroke-width="1.3" stroke-linejoin="round"/>
<g font-size="19.5" style="will-change:transform">
<text x="88.5" y="17.8" text-anchor="end">1</text>
<text x="89.6" y="114.9" text-anchor="end" textLength="42" lengthAdjust="spacingAndGlyphs">0.95</text>
<text x="89.9" y="211.9" text-anchor="end" textLength="30.6" lengthAdjust="spacingAndGlyphs">0.9</text>
<text x="89.6" y="308.9" text-anchor="end" textLength="42" lengthAdjust="spacingAndGlyphs">0.85</text>
<text x="89.9" y="405.9" text-anchor="end" textLength="30.6" lengthAdjust="spacingAndGlyphs">0.8</text>
<text x="260.9" y="480.9" text-anchor="middle" textLength="47.5" lengthAdjust="spacingAndGlyphs">3000</text>
<text x="457.9" y="480.9" text-anchor="middle" textLength="47.5" lengthAdjust="spacingAndGlyphs">2000</text>
<text x="654.4" y="480.9" text-anchor="middle" textLength="47.5" lengthAdjust="spacingAndGlyphs">1000</text>
<text x="419.4" y="505.1" text-anchor="middle" textLength="195.5" lengthAdjust="spacingAndGlyphs">Wavenumber (cm-1)</text>
<text x="0" y="0" text-anchor="middle" textLength="220.6" lengthAdjust="spacingAndGlyphs" transform="translate(24.1 232.9) rotate(-90)">Relative Transmittance</text>
</g>
</svg>
</body></html>
